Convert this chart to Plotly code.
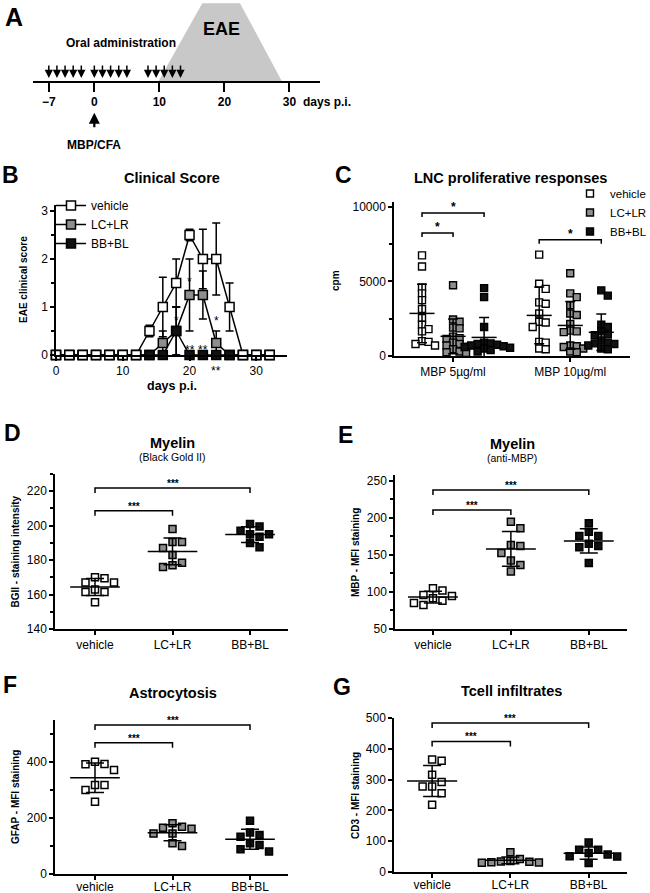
import numpy as np
import plotly.graph_objects as go

W, H = 650, 893
FONT = "Liberation Sans"

# ---------------- data ----------------
# A: schedule (days p.i.)
admin_days = [-7, -5.75, -4.5, -3.25, -2, 0, 1.25, 2.5, 3.75, 5, 8.25, 9.5, 10.75, 12, 13.25]
immunization_day = [0]
eae_days = [9.8, 16.6, 22.4, 28.9]
eae_level = [0, 1, 1, 0]
schedule_ticks = [-7, 0, 10, 20, 30]

# B: clinical score
groups = ["vehicle", "LC+LR", "BB+BL"]
score_days = [0, 2, 4, 6, 8, 10, 12, 14, 16, 18, 20, 22, 24, 26, 28, 30, 32]
veh_score = [0, 0, 0, 0, 0, 0, 0, 0.5, 1.0, 1.5, 2.5, 2.0, 2.0, 1.0, 0, 0, 0]
veh_err = [0, 0, 0, 0, 0, 0, 0, 0.12, 0.62, 0.5, 0.12, 0.62, 0.75, 0.5, 0, 0, 0]
lc_score = [0, 0, 0, 0, 0, 0, 0, 0, 0.25, 0.5, 1.25, 1.25, 0.25, 0, 0, 0, 0]
lc_err = [0, 0, 0, 0, 0, 0, 0, 0, 0.25, 0.5, 0.75, 0.5, 0.25, 0, 0, 0, 0]
bb_score = [0, 0, 0, 0, 0, 0, 0, 0, 0, 0.5, 0, 0, 0, 0, 0, 0, 0]
bb_err = [0, 0, 0, 0, 0, 0, 0, 0, 0, 0.5, 0, 0, 0, 0, 0, 0, 0]
B_star_day = [18, 20, 24, 20, 22, 24]
B_star_y = [0.78, 1.58, 0.78, 0.17, 0.17, -0.27]
B_star_text = ["*", "*", "*", "**", "**", "**"]

# C: LNC proliferation (cpm)
C_conc = ["MBP 5µg/ml", "MBP 10µg/ml"]
C_vehicle = [[6750, 6000, 4600, 4200, 3750, 3150, 2550, 2100, 1800, 1650, 1000, 950, 800, 700],
             [6800, 4850, 4500, 3600, 3500, 2850, 2300, 2250, 1950, 950, 900, 500, 450]]
C_lc = [[4750, 2450, 2300, 1900, 1850, 1300, 1200, 1150, 900, 800, 700, 600, 450, 300, 250, 200],
        [5550, 4200, 3950, 3400, 2850, 2750, 2150, 1700, 1650, 1600, 700, 650, 600, 500, 300, 250]]
C_bb = [[4550, 3950, 1950, 900, 850, 800, 750, 700, 650, 600, 550, 500, 400, 300],
        [4400, 4050, 2100, 1950, 1650, 1450, 1400, 1050, 900, 850, 800, 700, 500, 450]]
C_br_from = [(0, "vehicle"), (0, "vehicle"), (1, "vehicle")]
C_br_to = [(0, "BB+BL"), (0, "LC+LR"), (1, "BB+BL")]
C_br_y = [9600, 8250, 7800]
C_br_label = ["*", "*", "*"]

# D: Myelin (Black Gold II)
D_vals = [[170, 169.5, 167, 167, 163, 161.5, 161.5, 155.5],
          [198, 190.5, 190.5, 187, 183, 178.5, 177, 176],
          [201, 199.5, 197, 195, 195, 193.5, 190, 187.5]]
# E: Myelin (anti-MBP)
E_vals = [[105, 102, 96, 94.5, 91.5, 88, 85, 82.5],
          [195, 186, 163.5, 162, 152.5, 142.5, 136.5, 127.5],
          [193, 181.5, 175.5, 175.5, 165, 162, 160.5, 139]]
# F: Astrocytosis
F_vals = [[401, 393, 392, 371, 318, 318, 300, 258],
          [181, 169, 165, 162, 145, 145, 110, 100],
          [190, 148, 139, 133, 110, 104, 88, 80]]
# G: T cell infiltrates
G_vals = [[365, 361, 316, 292, 278, 278, 256, 218],
          [64, 42, 36, 34, 33, 32, 31, 30],
          [96, 72, 72, 62, 57, 51, 50, 29]]
# significance brackets (from group, to group, level, label)
D_br = [(0, 2, 221.8, "***"), (0, 1, 208.7, "***")]
E_br = [(0, 2, 237.8, "***"), (0, 1, 210.8, "***")]
F_br = [(0, 2, 532, "***"), (0, 1, 469, "***")]
G_br = [(0, 2, 484, "***"), (0, 1, 424, "***")]

# ---------------- styling / layout ----------------
fills = {"vehicle": "white", "LC+LR": "#8e8e8e", "BB+BL": "#111111"}
# pixel boxes: (left, right), (top, bottom), axis ranges
P = {
    "A": dict(n=1, x=(33, 320), y=(0, 150), xr=(-9.43, 34.7), yr=(-0.863, 1.04)),
    "B": dict(n=2, x=(56, 287), y=(205, 355), xr=(0, 34.6), yr=(0, 3.125)),
    "C": dict(n=3, x=(394, 630), y=(202, 356), xr=(0.496, 2.51), yr=(0, 10330)),
    "D": dict(n=4, x=(55, 288), y=(474, 629), xr=(0.484, 3.49), yr=(140, 230)),
    "E": dict(n=5, x=(395, 627), y=(475, 629), xr=(0.513, 3.49), yr=(50, 258)),
    "F": dict(n=6, x=(55, 288), y=(720, 874), xr=(0.484, 3.49), yr=(0, 550)),
    "G": dict(n=7, x=(394, 627), y=(718, 872), xr=(0.513, 3.49), yr=(0, 500)),
}
A_LINE_PX = 82


def ppu(p):
    px = (p["x"][1] - p["x"][0]) / (p["xr"][1] - p["xr"][0])
    py = (p["y"][1] - p["y"][0]) / (p["yr"][1] - p["yr"][0])
    return px, py


def refs(p):
    n = p["n"]
    s = "" if n == 1 else str(n)
    return "x" + s, "y" + s


def swarm(vals, ppx, ppy, size):
    vals = np.asarray(vals, float)
    order = np.argsort(-vals, kind="stable")
    placed = []
    off = np.zeros(len(vals))
    step = size / 2 + 0.5
    cands = [0.0] + [s * k * step for k in range(1, 14) for s in (1, -1)]
    for i in order:
        yp = vals[i] * ppy
        for c in cands:
            if all(abs(c - a) >= size or abs(yp - b) >= size for a, b in placed):
                break
        placed.append((c, yp))
        off[i] = c / ppx
    return off


fig = go.Figure()
ann = []


def txt(x, y, s, size, bold=False, xref="paper", yref="paper", xanchor="center", yanchor="middle", angle=0, **kw):
    if xref == "paper":
        x = x / W
    if yref == "paper":
        y = 1 - y / H
    ann.append(dict(x=x, y=y, xref=xref, yref=yref, text=("<b>%s</b>" % s) if bold else s,
                    showarrow=False, xanchor=xanchor, yanchor=yanchor, textangle=angle,
                    font=dict(family=FONT, size=size, color="black"), **kw))


def add_meansd(p, center, vals, half_w, cap):
    xa, ya = refs(p)
    m = float(np.mean(vals))
    sd = float(np.std(vals, ddof=1))
    fig.add_trace(go.Scatter(x=[center - half_w, center + half_w], y=[m, m], mode="lines",
                             line=dict(color="black", width=1.5), xaxis=xa, yaxis=ya,
                             showlegend=False, hoverinfo="skip"))
    fig.add_trace(go.Scatter(x=[center], y=[m], mode="markers",
                             marker=dict(size=1, color="rgba(0,0,0,0)"),
                             error_y=dict(type="data", array=[sd], color="black", thickness=1.5, width=cap),
                             xaxis=xa, yaxis=ya, showlegend=False, hoverinfo="skip"))


def add_bracket(p, x0, x1, yv, label, fs=10, tick_px=5):
    xa, ya = refs(p)
    _, ppy = ppu(p)
    t = tick_px / ppy
    fig.add_trace(go.Scatter(x=[x0, x0, x1, x1], y=[yv - t, yv, yv, yv - t], mode="lines",
                             line=dict(color="black", width=1.5), xaxis=xa, yaxis=ya,
                             showlegend=False, hoverinfo="skip"))
    txt((x0 + x1) / 2, yv, label, fs, bold=True, xref=xa, yref=ya, yanchor="bottom", yshift=-3)


# ---- Panel A ----
pA = P["A"]
fig.add_trace(go.Scatter(x=eae_days, y=eae_level, fill="toself", fillcolor="#c8c8c8",
                         mode="lines", line=dict(width=0, color="#c8c8c8"),
                         xaxis="x", yaxis="y", showlegend=False, hoverinfo="skip"))
for d in admin_days:
    ann.append(dict(x=d, y=0.05, xref="x", yref="y", ax=0, ay=-14, showarrow=True,
                    arrowhead=2, arrowsize=1.1, arrowwidth=1.5, arrowcolor="black", text=""))
for d in immunization_day:
    ann.append(dict(x=d, y=-0.39, xref="x", yref="y", ax=0, ay=16, showarrow=True,
                    arrowhead=2, arrowsize=1.0, arrowwidth=2.2, arrowcolor="black", text=""))
    txt(d, 145, "MBP/CFA", 12, bold=True, xref="x")
txt(121, 43, "Oral administration", 12, bold=True)
txt(19.5, 29, "EAE", 18, bold=True, xref="x")
txt(301, 102, "days p.i.", 12, bold=True, xanchor="left")
txt(3, 17, "A", 25, bold=True, xanchor="left")

# ---- Panel B ----
pB = P["B"]
xb, yb = refs(pB)
_, ppyB = ppu(pB)
series_B = [("LC+LR", lc_score, lc_err, 2), ("BB+BL", bb_score, bb_err, 3), ("vehicle", veh_score, veh_err, 1)]
for name, sc, er, rank in series_B:
    fig.add_trace(go.Scatter(x=score_days, y=sc, mode="lines+markers", name=name,
                             line=dict(color="black", width=1.5),
                             marker=dict(symbol="square", size=9, color=fills[name],
                                         line=dict(color="black", width=1.5)),
                             error_y=dict(type="data", array=er, color="black", thickness=1.5, width=4),
                             cliponaxis=False, xaxis=xb, yaxis=yb, legend="legend",
                             legendrank=rank, hoverinfo="skip"))
for d, yv, s in zip(B_star_day, B_star_y, B_star_text):
    if yv >= pB["yr"][0]:
        txt(d, yv, s, 12, xref=xb, yref=yb, yshift=-3)
    else:  # below the axis: place in page coordinates (off-axis annotations get hidden)
        txt(d, pB["y"][1] + (pB["yr"][0] - yv) * ppyB, s, 12, xref=xb, yshift=-3)
txt(10, 175, "B", 23, bold=True)
txt(172, 178, "Clinical Score", 14.5, bold=True)
txt(172, 386, "days p.i.", 12.5, bold=True)
txt(23, 280, "EAE clinical score", 10, bold=True, angle=-90)

# ---- Panel C ----
pC = P["C"]
xc, yc = refs(pC)
ppx, ppy = ppu(pC)
C_off = {"vehicle": -0.265, "LC+LR": 0.0, "BB+BL": 0.265}
C_data = {"vehicle": C_vehicle, "LC+LR": C_lc, "BB+BL": C_bb}
for rank, g in enumerate(groups):
    xs, ys = [], []
    for ci in range(len(C_conc)):
        vals = C_data[g][ci]
        jit = swarm(vals, ppx, ppy, 5.5)
        xs += list(ci + 1 + C_off[g] + jit)
        ys += list(vals)
    fig.add_trace(go.Scatter(x=xs, y=ys, mode="markers", name=g,
                             marker=dict(symbol="square", size=7, color=fills[g],
                                         line=dict(color="black", width=1.4)),
                             cliponaxis=False, xaxis=xc, yaxis=yc, legend="legend2",
                             legendrank=rank + 1, hoverinfo="skip"))
for g in groups:
    for ci in range(len(C_conc)):
        add_meansd(pC, ci + 1 + C_off[g], C_data[g][ci], 0.107, 5)
for (c0, g0), (c1, g1), yv, lab in zip(C_br_from, C_br_to, C_br_y, C_br_label):
    add_bracket(pC, c0 + 1 + C_off[g0], c1 + 1 + C_off[g1], yv, lab, fs=12, tick_px=4)
txt(343, 175, "C", 23, bold=True)
txt(510, 178, "LNC proliferative responses", 14.5, bold=True)
txt(335, 280, "cpm", 10, bold=True, angle=-90)

# ---- Panels D-G ----
dot_panels = [
    ("D", D_vals, D_br, "Myelin", "(Black Gold II)", "BGII - staining intensity", (12, 433), 15),
    ("E", E_vals, E_br, "Myelin", "(anti-MBP)", "MBP - MFI staining", (345, 435), 355),
    ("F", F_vals, F_br, "Astrocytosis", None, "GFAP - MFI staining", (10, 685), 15),
    ("G", G_vals, G_br, "Tcell infiltrates", None, "CD3 - MFI staining", (342, 687), 355),
]
for key, vals3, brs, title, sub, ytitle, lab_pos, ytx in dot_panels:
    p = P[key]
    xa, ya = refs(p)
    ppx, ppy = ppu(p)
    for gi, g in enumerate(groups):
        jit = swarm(vals3[gi], ppx, ppy, 8.5)
        fig.add_trace(go.Scatter(x=list(gi + 1 + jit), y=vals3[gi], mode="markers",
                                 marker=dict(symbol="square", size=7, color=fills[g],
                                             line=dict(color="black", width=1.5)),
                                 cliponaxis=False, xaxis=xa, yaxis=ya, showlegend=False,
                                 hoverinfo="skip"))
    for gi, g in enumerate(groups):
        add_meansd(p, gi + 1, vals3[gi], 0.32, 9)
    for g0, g1, yv, lab in brs:
        add_bracket(p, g0 + 1, g1 + 1, yv, lab, fs=10, tick_px=5)
    cx = (p["x"][0] + p["x"][1]) / 2 + 1
    txt(lab_pos[0], lab_pos[1], key, 23, bold=True)
    ty = p["y"][0] - 31 if sub else p["y"][0] - 27
    txt(cx, ty, title, 14.5, bold=True)
    if sub:
        txt(cx, ty + 14, sub, 10.5)
    txt(ytx, (p["y"][0] + p["y"][1]) / 2, ytitle, 10, bold=True, angle=-90)

# ---------------- axes ----------------
def axis(**kw):
    d = dict(showgrid=False, zeroline=False, showline=True, linecolor="black", linewidth=1.5,
             ticks="outside", tickcolor="black", tickwidth=1.5, ticklen=4,
             tickfont=dict(family=FONT, size=12, color="black"), fixedrange=True, automargin=False)
    d.update(kw)
    return d


layout_axes = {}
for key, p in P.items():
    n = p["n"]
    s = "" if n == 1 else str(n)
    layout_axes["xaxis" + s] = axis(domain=[p["x"][0] / W, p["x"][1] / W], range=list(p["xr"]),
                                    anchor="y" + s)
    layout_axes["yaxis" + s] = axis(domain=[1 - p["y"][1] / H, 1 - p["y"][0] / H], range=list(p["yr"]),
                                    anchor="x" + s)

layout_axes["xaxis"].update(tickvals=schedule_ticks, linewidth=2, tickwidth=2, ticklen=9,
                            anchor="free", position=1 - A_LINE_PX / H,
                            tickfont=dict(family=FONT, size=12, color="black", weight="bold"))
layout_axes["yaxis"].update(visible=False)
layout_axes["xaxis2"].update(tickvals=[0, 10, 20, 30])
layout_axes["yaxis2"].update(tickvals=[0, 1, 2, 3], minor=dict(dtick=0.5, ticks="outside", ticklen=3, tickcolor="black"))
layout_axes["xaxis3"].update(tickvals=[1, 2], ticktext=C_conc)
layout_axes["yaxis3"].update(tickvals=[0, 5000, 10000], ticktext=["0", "5000", "10000"],
                             minor=dict(dtick=2500, ticks="outside", ticklen=3, tickcolor="black"))
for s in ["4", "5", "6", "7"]:
    layout_axes["xaxis" + s].update(tickvals=[1, 2, 3], ticktext=groups)
for s in ["6", "7"]:
    layout_axes["xaxis" + s].update(ticklabelstandoff=-3)
layout_axes["yaxis4"].update(tickvals=[140, 160, 180, 200, 220], minor=dict(dtick=10, ticks="outside", ticklen=3, tickcolor="black"))
layout_axes["yaxis5"].update(tickvals=[50, 100, 150, 200, 250], minor=dict(dtick=25, ticks="outside", ticklen=3, tickcolor="black"))
layout_axes["yaxis6"].update(tickvals=[0, 200, 400], minor=dict(dtick=100, ticks="outside", ticklen=3, tickcolor="black"))
layout_axes["yaxis7"].update(tickvals=[0, 100, 200, 300, 400, 500])

fig.update_layout(
    width=W, height=H, margin=dict(l=0, r=0, t=0, b=0, autoexpand=False),
    paper_bgcolor="white", plot_bgcolor="white",
    font=dict(family=FONT, size=12, color="black"),
    showlegend=True,
    legend=dict(x=51 / W, y=1 - 191 / H, xanchor="left", yanchor="top", bgcolor="rgba(0,0,0,0)",
                font=dict(family=FONT, size=12, color="black"), itemwidth=30, tracegroupgap=0),
    legend2=dict(x=570 / W, y=1 - 179 / H, xanchor="left", yanchor="top", bgcolor="rgba(0,0,0,0)",
                 font=dict(family=FONT, size=11.5, color="black"), itemwidth=30, tracegroupgap=0),
    annotations=ann,
    **layout_axes,
)

fig.write_html("out.html", config={"displayModeBar": False},
               post_script="document.body.style.margin='0px';document.body.style.overflow='hidden';")
